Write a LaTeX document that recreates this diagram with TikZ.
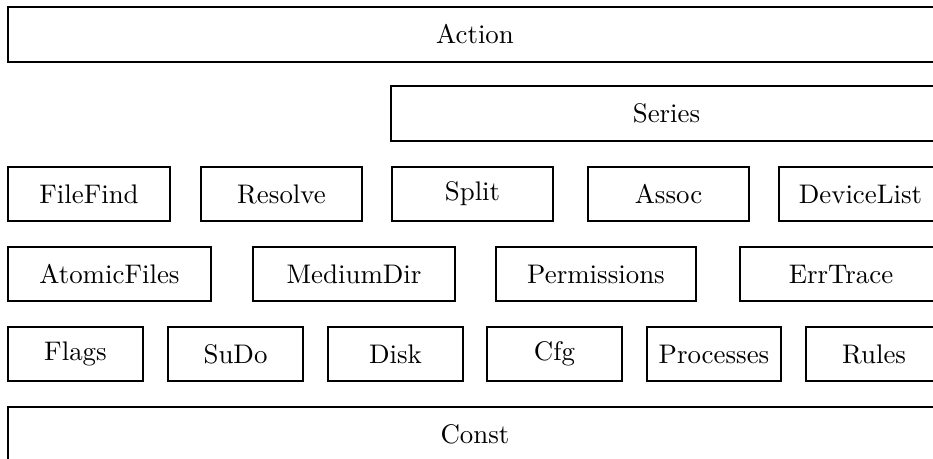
\documentclass[tikz,border=0pt]{standalone}
\begin{document}
\begin{tikzpicture}[x=0.372pt,y=-0.372pt,
  box/.style={draw=black,line width=0.8pt,inner sep=0pt,rectangle,font=\normalsize}]
\def\u{0.372pt}
\newcommand{\bx}[6]{\node[box,minimum width={(#4-#2)*\u},minimum height={(#5-#3)*\u}] (#1) at ({(#2+#4)/2},{(#3+#5)/2}) {#6};}
\clip (0,0) rectangle (933,458);
% row 1
\bx{action}{8}{7}{942}{62}{Action}
% row 2
\bx{series}{391}{86}{942}{141}{Series}
% row 3
\bx{filefind}{8}{167}{170}{221}{FileFind}
\bx{resolve}{201}{167}{362}{221}{Resolve}
\bx{split}{392}{167}{553}{221}{Split}
\bx{assoc}{588}{167}{749}{221}{Assoc}
\bx{devicelist}{779}{167}{942}{221}{DeviceList}
% row 4
\bx{atomicfiles}{8}{247}{211}{301}{AtomicFiles}
\bx{mediumdir}{253}{247}{455}{301}{MediumDir}
\bx{permissions}{496}{247}{696}{301}{Permissions}
\bx{errtrace}{740}{247}{942}{301}{ErrTrace}
% row 5
\bx{flags}{8}{327}{143}{381}{Flags}
\bx{sudo}{168}{327}{303}{381}{SuDo}
\bx{disk}{328}{327}{463}{381}{Disk}
\bx{cfg}{487}{327}{622}{381}{Cfg}
\bx{processes}{647}{327}{781}{381}{Processes}
\bx{rules}{806}{327}{942}{381}{Rules}
% row 6
\bx{const}{8}{407}{942}{462}{Const}
\end{tikzpicture}
\end{document}
